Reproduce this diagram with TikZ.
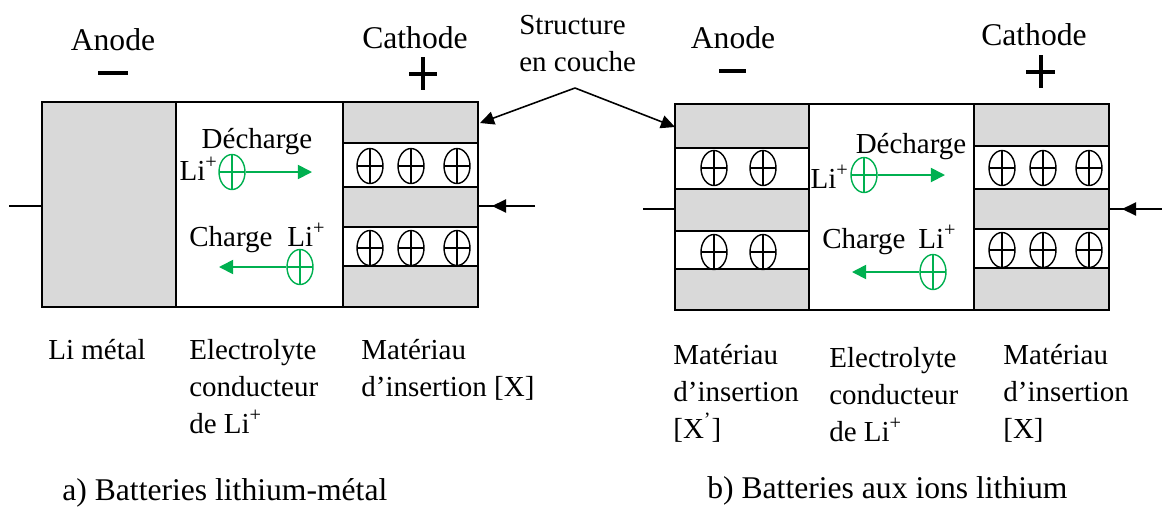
\documentclass[tikz,border=0pt]{standalone}
\usepackage{fontspec}
\setmainfont{Liberation Serif}
\usetikzlibrary{arrows.meta,shapes.geometric}
\definecolor{IonClr}{RGB}{0,176,80}
\definecolor{LayerClr}{gray}{0.85}

\tikzset{
  cell/.style={draw,line width=1.2pt},
  layer/.style={draw,fill=LayerClr,line width=0.8pt},
  band/.style={draw,fill=white,line width=0.8pt},
  wire/.style={line width=0.9pt},
  sign/.style={line width=2pt},
  ion/.style={ellipse,draw=#1,line width=0.8pt,minimum width=0.52cm,minimum height=0.7cm,inner sep=0pt,
    path picture={\draw[#1,line width=0.6pt] (path picture bounding box.north) -- (path picture bounding box.south)
      (path picture bounding box.west) -- (path picture bounding box.east);}},
  ion/.default=black,
  garrow/.style={draw=IonClr,line width=1pt,-{Triangle[length=8pt,width=8pt]}},
  sarrow/.style={line width=0.9pt,-{Triangle[length=8pt,width=7.5pt]}},
  lbl/.style={inner sep=0pt,font=\fontsize{16.5}{21}\selectfont},
  big/.style={inner sep=0pt,font=\fontsize{18}{22}\selectfont}
}

\begin{document}
\begin{tikzpicture}[x=0.02cm,y=-0.02cm]
\useasboundingbox (0,0) rectangle (1162,515);

% a) lithium-metal cell
\draw[layer] (42,102) rectangle (176,307);
\draw[layer] (343,102) rectangle (478,307);
\draw[band] (343,143) rectangle (478,187);
\draw[band] (343,227) rectangle (478,266);
\draw[cell] (42,102) rectangle (478,307);
\foreach \x in {370,411,457}
  \foreach \y in {166,248}
    \node[ion] (ca\x\y) at (\x,\y) {};

\coordinate (lwA) at (9,206);
\coordinate (lbA) at (42,206);
\coordinate (rwA) at (535,206);
\coordinate (rbA) at (478,206);
\coordinate (rtA) at (492,206);
\draw[wire] (lwA) -- (lbA);
\draw[wire] (rbA) -- (rwA);
\draw[sarrow] (rwA) -- (rtA);

\node[big,anchor=base] (anodeA) at (113,50) {Anode};
\node[big,anchor=base] (cathA) at (415,48) {Cathode};
\draw[sign] (98,73) -- (128,73);
\draw[sign] (409,74) -- (437,74) (423,57) -- (423,90);

\node[lbl,anchor=base] (decA) at (257,148) {Décharge};
\node[ion=IonClr] (liA1) at (232,172) {};
\node[lbl,anchor=base east] (tlA1) at (218,180) {Li\textsuperscript{+}};
\coordinate (dA) at (312,172);
\draw[garrow] (liA1) -- (dA);

\node[lbl,anchor=base west] (chgA) at (189,246) {Charge};
\node[lbl,anchor=base west] (tlA2) at (287,246) {Li\textsuperscript{+}};
\node[ion=IonClr] (liA2) at (300,267) {};
\coordinate (cA) at (219,267);
\draw[garrow] (liA2) -- (cA);

% last-line baselines of the stacked labels
\node[lbl,anchor=base west] (metA) at (48,359) {Li métal};
\node[lbl,anchor=base west,align=left] (elA) at (189,433) {Electrolyte\\conducteur\\de Li\textsuperscript{+}};
\node[lbl,anchor=base west,align=left] (matA) at (361,396) {Matériau\\d’insertion {[}X{]}};
\node[big,anchor=base west] (capA) at (62,500) {a) Batteries lithium-métal};

% layered structure
\node[lbl,anchor=base west,align=left] (struct) at (519,71) {Structure\\en couche};
\coordinate (apex) at (575,88);
\coordinate (sA) at (480,123);
\coordinate (sB) at (675,127);
\draw[sarrow] (apex) -- (sA);
\draw[sarrow] (apex) -- (sB);

% b) lithium-ion cell
\draw[layer] (675,104) rectangle (809,310);
\draw[band] (675,148) rectangle (809,189);
\draw[band] (675,231) rectangle (809,269);
\draw[layer] (974,104) rectangle (1109,310);
\draw[band] (974,146) rectangle (1109,189);
\draw[band] (974,229) rectangle (1109,268);
\draw[cell] (675,104) rectangle (1109,310);
\foreach \x in {714,763}
  \foreach \y in {168,252}
    \node[ion] (an\x\y) at (\x,\y) {};
\foreach \x in {1002,1043,1089}
  \foreach \y in {168,250}
    \node[ion] (cb\x\y) at (\x,\y) {};

\coordinate (lwB) at (643,209);
\coordinate (lbB) at (675,209);
\coordinate (rwB) at (1162,209);
\coordinate (rbB) at (1109,209);
\coordinate (rtB) at (1122,209);
\draw[wire] (lwB) -- (lbB);
\draw[wire] (rbB) -- (rwB);
\draw[sarrow] (rwB) -- (rtB);

\node[big,anchor=base] (anodeB) at (733,48) {Anode};
\node[big,anchor=base] (cathB) at (1034,45) {Cathode};
\draw[sign] (719,71) -- (746,71);
\draw[sign] (1026,72) -- (1055,72) (1041,55) -- (1041,88);

\node[lbl,anchor=base] (decB) at (911,153) {Décharge};
\node[ion=IonClr] (liB1) at (864,175) {};
\node[lbl,anchor=base east] (tlB1) at (849,188) {Li\textsuperscript{+}};
\coordinate (dB) at (945,175);
\draw[garrow] (liB1) -- (dB);

\node[lbl,anchor=base west] (chgB) at (822,248) {Charge};
\node[lbl,anchor=base west] (tlB2) at (918,248) {Li\textsuperscript{+}};
\node[ion=IonClr] (liB2) at (933,272) {};
\coordinate (cB) at (852,272);
\draw[garrow] (liB2) -- (cB);

\node[lbl,anchor=base west,align=left] (matB1) at (673,438) {Matériau\\d’insertion\\{[}X\textsuperscript{’}{]}};
\node[lbl,anchor=base west,align=left] (elB) at (829,441) {Electrolyte\\conducteur\\de Li\textsuperscript{+}};
\node[lbl,anchor=base west,align=left] (matB2) at (1003,438) {Matériau\\d’insertion\\{[}X{]}};
\node[big,anchor=base west] (capB) at (707,498) {b) Batteries aux ions lithium};

\end{tikzpicture}
\end{document}
